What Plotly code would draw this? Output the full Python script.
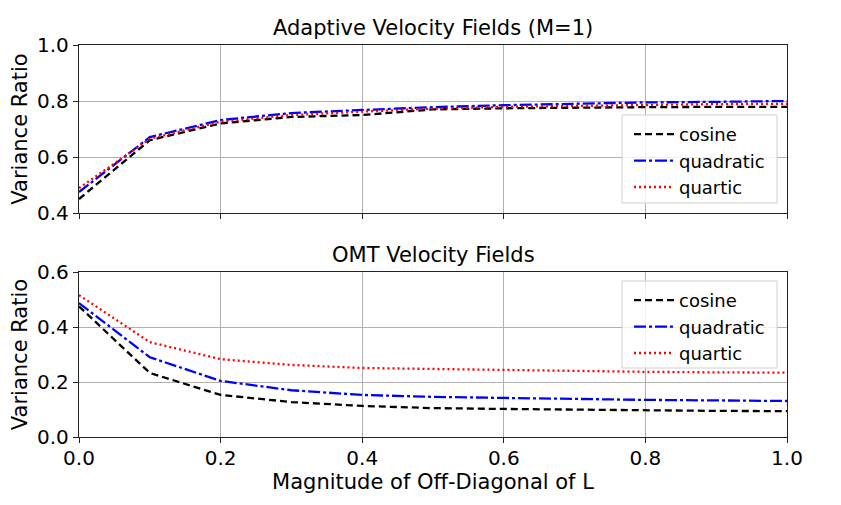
import plotly.graph_objects as go
from plotly.subplots import make_subplots

x_vals = [0.0, 0.1, 0.2, 0.3, 0.4, 0.5, 0.6, 0.7, 0.8, 0.9, 1.0]

adaptive_cosine = [0.45, 0.66, 0.72, 0.743, 0.75, 0.77, 0.774, 0.777, 0.778, 0.779, 0.779]
adaptive_quadratic = [0.475, 0.671, 0.732, 0.757, 0.768, 0.778, 0.785, 0.79, 0.795, 0.797, 0.80]
adaptive_quartic = [0.489, 0.665, 0.726, 0.75, 0.762, 0.773, 0.779, 0.783, 0.787, 0.789, 0.79]

omt_cosine = [0.475, 0.233, 0.153, 0.127, 0.113, 0.105, 0.102, 0.099, 0.097, 0.095, 0.094]
omt_quadratic = [0.487, 0.29, 0.204, 0.17, 0.153, 0.146, 0.142, 0.138, 0.135, 0.133, 0.131]
omt_quartic = [0.516, 0.345, 0.283, 0.262, 0.251, 0.247, 0.243, 0.24, 0.237, 0.235, 0.234]

series_names = ["cosine", "quadratic", "quartic"]
colors = ["black", "blue", "red"]
dashes = ["7px,4px", "12px,3px,3px,3px", "2px,3px"]

fig = make_subplots(rows=2, cols=1, vertical_spacing=0.15)

font = "DejaVu Sans"
for i, (name, ys) in enumerate(zip(series_names, [adaptive_cosine, adaptive_quadratic, adaptive_quartic])):
    fig.add_trace(go.Scatter(x=x_vals, y=ys, mode="lines", name=name,
                             line=dict(color=colors[i], dash=dashes[i], width=2.3),
                             legend="legend"), row=1, col=1)
for i, (name, ys) in enumerate(zip(series_names, [omt_cosine, omt_quadratic, omt_quartic])):
    fig.add_trace(go.Scatter(x=x_vals, y=ys, mode="lines", name=name,
                             line=dict(color=colors[i], dash=dashes[i], width=2.3),
                             legend="legend2"), row=2, col=1)

# pixel geometry of the plot areas (window coordinates)
PX_L, PX_R = 79, 787
TOP_Y0, TOP_Y1 = 45, 213
BOT_Y0, BOT_Y1 = 272, 437
H = BOT_Y1 - TOP_Y0


def py(ypix):
    return (BOT_Y1 - ypix) / H


def px(xpix):
    return (xpix - PX_L) / (PX_R - PX_L)


top_dom = [py(TOP_Y1), 1.0]
bot_dom = [0.0, py(BOT_Y0)]

axis_common = dict(showline=True, linecolor="#222222", linewidth=1.3, mirror=True,
                   ticks="outside", ticklen=5, tickcolor="#222222", automargin=False,
                   showgrid=True, gridcolor="#b0b0b0", gridwidth=1, zeroline=False,
                   tickfont=dict(family=font, size=20, color="black"))

fig.update_xaxes(range=[0, 1], dtick=0.2, tickformat=".1f", **axis_common)
fig.update_xaxes(showticklabels=False, row=1, col=1)
fig.update_xaxes(ticklabelstandoff=-2,
                 title=dict(text="Magnitude of Off-Diagonal of L", font=dict(family=font, size=21, color="black"), standoff=0),
                 row=2, col=1)
fig.update_yaxes(tickformat=".1f", **axis_common)
fig.update_yaxes(range=[0.4, 1.0], dtick=0.2, domain=top_dom,
                 title=dict(text="Variance Ratio", font=dict(family=font, size=21, color="black"), standoff=4),
                 row=1, col=1)
fig.update_yaxes(range=[0.0, 0.6], dtick=0.2, domain=bot_dom,
                 title=dict(text="Variance Ratio", font=dict(family=font, size=21, color="black"), standoff=4),
                 row=2, col=1)

legend_common = dict(bgcolor="rgba(0,0,0,0)", borderwidth=0,
                     font=dict(family=font, size=18, color="black"),
                     xanchor="left", yanchor="top", x=px(629), itemwidth=40, tracegroupgap=0)

legend_box_style = dict(type="rect", xref="paper", yref="paper", layer="above",
                        line=dict(color="#d0d0d0", width=1), fillcolor="rgba(255,255,255,0.8)")

fig.update_layout(
    width=833, height=497,
    margin=dict(l=71, r=54, t=37, b=68),
    plot_bgcolor="white", paper_bgcolor="white",
    showlegend=True,
    legend=dict(y=py(116), **legend_common),
    legend2=dict(y=py(282), **legend_common),
    shapes=[
        dict(x0=px(622), x1=px(777), y0=py(203), y1=py(115), **legend_box_style),
        dict(x0=px(622), x1=px(777), y0=py(368), y1=py(281), **legend_box_style),
    ],
    annotations=[
        dict(text="Adaptive Velocity Fields (M=1)", x=0.5, xref="paper", y=1.0, yref="paper",
             yanchor="bottom", yshift=3, showarrow=False, font=dict(family=font, size=21, color="black")),
        dict(text="OMT Velocity Fields", x=0.5, xref="paper", y=bot_dom[1], yref="paper",
             yanchor="bottom", yshift=3, showarrow=False, font=dict(family=font, size=21, color="black")),
    ],
)

fig.write_html("out.html")
